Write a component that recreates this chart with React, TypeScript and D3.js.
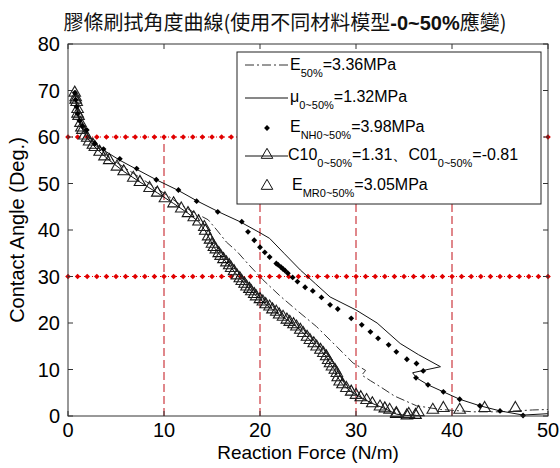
import * as d3 from "d3";

type Pt = [number, number];

const xTicks = [0, 10, 20, 30, 40, 50];
const yTicks = [0, 10, 20, 30, 40, 50, 60, 70, 80];
const refAngles = [60, 30];
const refForces = [10, 20, 30, 40];
const refDotForces = d3.range(0, 51);

// E50% (dash-dot)
const e50Pts: Pt[] = [
  [0.7, 69.5], [0.9, 66], [1.2, 63.5], [1.8, 60.5], [2.6, 58.6], [3.6, 56.8], [5, 54.6],
  [6.8, 52.2], [8.6, 49.8], [10.3, 47.5], [11.8, 45.3], [13.4, 43.5], [14.6, 42.2], [15.5, 40],
  [16.5, 37.4], [17.6, 35.4], [18.8, 32.6], [20.3, 29.3], [22.1, 25.8], [23.8, 22.8], [25.9, 19.2],
  [28, 14.9], [29.7, 11.4], [31, 9.8], [30.6, 8.8], [31.5, 7.6], [32.6, 6.2], [34, 4.3],
  [36.3, 2.2], [38.8, 1.4], [42.2, 0.9], [45, 0.9], [48.4, 1.3], [50, 1.4],
];

// mu 0~50% (solid)
const muPts: Pt[] = [
  [0.7, 70], [0.8, 68.5], [1, 66], [1.3, 63.2], [1.7, 61.3], [2.2, 60], [3, 58.3], [4, 56.8],
  [5.4, 55], [7.2, 53], [9.2, 50.8], [11.5, 48.5], [13.4, 46.3], [15.8, 43.8], [17.9, 41.8],
  [20, 39.4], [21, 38.2], [22.5, 35], [24.2, 31.4], [25.8, 28.4], [27.3, 25.6], [30, 22.8],
  [32.2, 20], [34.6, 15.6], [36.5, 13.2], [38.8, 10.6], [35.9, 9.3], [36.3, 8.2], [37.5, 6.7],
  [39.1, 5.2], [40.8, 3.6], [42.9, 2.2], [45, 1.1], [47.4, 0.2], [50, 0.5],
];

// E NH 0~50% (diamonds)
const nhPts: Pt[] = [
  [0.7, 69.5], [0.8, 68], [0.9, 66.5], [1, 65], [1.2, 63.5], [1.5, 62.3], [1.95, 61.5],
  [2.8, 58.6], [3.7, 57.4], [5.4, 55.3], [7.15, 53.2], [9.2, 50.8], [11.5, 48.6], [13.4, 46.2],
  [15.6, 43.9], [18.1, 41.8], [18.75, 39.6], [19.4, 37.8], [20, 36.3], [20.5, 35.2], [21, 34.2],
  [21.7, 32.8], [21.9, 32.5], [22.2, 32], [22.4, 31.6], [22.6, 31.3], [22.9, 30.7], [23.4, 29.8],
  [23.9, 28.9], [24.7, 27.7], [25.5, 26.9], [26.4, 25.5], [27.3, 23.9], [28.1, 23], [29.5, 21],
  [30.6, 19.6], [31.5, 18.1], [32.3, 16.7], [33.4, 15.3], [34.2, 13.8], [35.3, 12.2], [36.3, 11.3],
  [37, 9.7], [36.25, 8.2], [37.5, 6.7], [39.1, 5.2], [40.8, 3.6], [42.9, 2.2], [45, 1.1], [47.4, 0.1],
];

// C10 / C01 0~50% (line + triangles)
const mrLinePts: Pt[] = [
  [0.8, 68], [1, 65], [1.4, 62], [2, 59.8], [2.6, 58.3], [3.3, 56.8], [4.3, 55], [5.8, 52.6],
  [7.5, 50.3], [9.3, 48], [11, 45.7], [12.5, 43.6], [13.6, 41.8], [14.3, 39.8], [14.8, 37.9],
  [15.2, 36.3], [15.7, 35], [16.2, 33.7], [16.8, 32.4], [17.3, 31.1], [17.9, 29.6], [18.4, 28.4],
  [18.9, 27.3], [19.4, 26.2], [20, 25.1], [20.6, 24], [21.3, 22.9], [22, 21.8], [22.8, 20.7],
  [23.5, 19.7], [24.2, 18.5], [24.9, 17], [25.6, 15.6], [26.3, 14.2], [26.9, 12.8], [27.3, 11.3],
  [27.8, 9.9], [28.1, 8.3], [28.6, 6.8], [29.5, 5.2], [30.5, 4], [31.7, 2.7], [33, 1.6],
  [34.2, 0.4], [35.3, 0.1], [36.2, 0.2],
];

// E MR 0~50% (triangles)
const mrPts: Pt[] = [
  [0.7, 69.5], [0.8, 68.5], [0.9, 67.5], [1, 66], [1.1, 64.5], [1.3, 63], [1.5, 61.5], [1.7, 60.3],
  [2.2, 59], [2.8, 57.8], [3.8, 55.8], [5.1, 53.6], [6.8, 51.2], [8.5, 49], [10.1, 46.8],
  [11.8, 44.6], [13.1, 42.7], [14.2, 40.6], [14.6, 38.6], [15, 37], [15.4, 35.8], [15.9, 34.4],
  [16.5, 33], [17, 31.8], [17.6, 30.2], [18.1, 29], [18.6, 27.8], [19.1, 26.8], [19.6, 25.7],
  [20.3, 24.6], [21, 23.5], [21.7, 22.4], [22.4, 21.3], [23.1, 20.2], [23.8, 19.2], [24.5, 17.8],
  [25.2, 16.3], [25.9, 14.9], [26.6, 13.5], [27.1, 12], [27.5, 10.6], [28, 9.2], [28.3, 7.4],
  [29, 6], [30, 4.5], [31.1, 3.4], [32.5, 2], [33.5, 1.3], [34.2, 0.6], [35.5, 0.4], [36.5, 0.8],
  [38, 1.3], [39.1, 1.7], [40.8, 1.3], [43.4, 1.7], [46.6, 1.7],
];

const W = 560;
const H = 468;
const L = 68, R = 548, T = 44, B = 416;
const FONT = "'Liberation Sans', Arial, sans-serif";

export default function App() {
  const x = d3.scaleLinear().domain([0, 50]).range([L, R]);
  const y = d3.scaleLinear().domain([0, 80]).range([B, T]);
  const line = d3.line<Pt>().x((d) => x(d[0])).y((d) => y(d[1]));
  const tri = d3.symbol(d3.symbolTriangle, 58)()!;
  const dia = d3.symbol(d3.symbolDiamond2, 22)()!;
  const redDia = d3.symbol(d3.symbolDiamond2, 20)()!;

  const legendX = 237, legendY = 52, legendW = 304, legendH = 152;
  const sx0 = 245, sx1 = 288, sxm = 267;

  return (
    <div style={{ position: "fixed", left: 0, top: 0 }}>
      <svg width={W} height={H} style={{ display: "block", background: "#fff" }} fontFamily={FONT}>
        <text x={285} y={30} textAnchor="middle" fontSize={20} fill="#111" fontFamily="'Noto Sans CJK TC', sans-serif">
          膠條刷拭角度曲線(使用不同材料模型
          <tspan fontFamily={FONT} fontWeight="bold">-0~50%</tspan>應變)
        </text>

        {/* reference lines */}
        {refForces.map((f) => (
          <line key={"v" + f} x1={x(f)} x2={x(f)} y1={y(0)} y2={y(60)}
            stroke="#d0484e" strokeWidth={1.3} strokeDasharray="8,4" />
        ))}
        {refAngles.map((a) => (
          <g key={"h" + a}>
            <line x1={x(0)} x2={x(50)} y1={y(a)} y2={y(a)} stroke="#e00" strokeWidth={1} strokeDasharray="1,3" />
            {refDotForces.map((f) => (
              <path key={f} d={redDia} transform={`translate(${x(f)},${y(a)})`} fill="#e00000" />
            ))}
          </g>
        ))}

        {/* series */}
        <path d={line(e50Pts)!} fill="none" stroke="#333" strokeWidth={1} strokeDasharray="9,3,2,3" />
        <path d={line(muPts)!} fill="none" stroke="#111" strokeWidth={1} />
        <path d={line(mrLinePts)!} fill="none" stroke="#111" strokeWidth={1} />
        {mrLinePts.map((d, i) => (
          <path key={"ml" + i} d={tri} transform={`translate(${x(d[0])},${y(d[1])})`} fill="none" stroke="#111" strokeWidth={1.1} />
        ))}
        {mrPts.map((d, i) => (
          <path key={"m" + i} d={tri} transform={`translate(${x(d[0])},${y(d[1])})`} fill="none" stroke="#222" strokeWidth={1.1} />
        ))}
        {nhPts.map((d, i) => (
          <path key={"n" + i} d={dia} transform={`translate(${x(d[0])},${y(d[1])})`} fill="#000" />
        ))}

        {/* axes box and ticks */}
        <rect x={L} y={T} width={R - L} height={B - T} fill="none" stroke="#333" strokeWidth={1} />
        {xTicks.map((t) => (
          <g key={"xt" + t}>
            <line x1={x(t)} x2={x(t)} y1={B} y2={B - 5} stroke="#333" />
            <line x1={x(t)} x2={x(t)} y1={T} y2={T + 5} stroke="#333" />
            <text x={x(t)} y={437} textAnchor="middle" fontSize={20} fill="#000">{t}</text>
          </g>
        ))}
        {yTicks.map((t) => (
          <g key={"yt" + t}>
            <line x1={L} x2={L + 5} y1={y(t)} y2={y(t)} stroke="#333" />
            <line x1={R} x2={R - 5} y1={y(t)} y2={y(t)} stroke="#333" />
            <text x={60} y={y(t) + 7} textAnchor="end" fontSize={20} fill="#000">{t}</text>
          </g>
        ))}
        <text x={(L + R) / 2} y={459} textAnchor="middle" fontSize={19} fill="#000">Reaction Force (N/m)</text>
        <text transform={`translate(24,${(T + B) / 2}) rotate(-90)`} textAnchor="middle" fontSize={20} fill="#000">
          Contact Angle (Deg.)
        </text>

        {/* legend */}
        <rect x={legendX} y={legendY} width={legendW} height={legendH} fill="#fff" stroke="#222" strokeWidth={1} />
        <g fontSize={16} fill="#000">
          <line x1={sx0} x2={sx1} y1={65} y2={65} stroke="#333" strokeDasharray="9,3,2,3" />
          <text x={290} y={70}>E<tspan fontSize={11} dy={7}>50%</tspan><tspan dy={-7}>=3.36MPa</tspan></text>

          <line x1={sx0} x2={sx1} y1={98} y2={98} stroke="#111" />
          <text x={290} y={102}>μ<tspan fontSize={11} dy={7}>0~50%</tspan><tspan dy={-7}>=1.32MPa</tspan></text>

          <path d={dia} transform={`translate(${sxm},128)`} fill="#000" />
          <text x={290} y={132}>E<tspan fontSize={11} dy={7}>NH0~50%</tspan><tspan dy={-7}>=3.98MPa</tspan></text>

          <line x1={sx0} x2={sx1} y1={156} y2={156} stroke="#111" />
          <path d={tri} transform={`translate(${sxm},155)`} fill="none" stroke="#111" />
          <text x={288} y={160}>C10<tspan fontSize={11} dy={7}>0~50%</tspan><tspan dy={-7}>=1.31、C01</tspan><tspan fontSize={11} dy={7}>0~50%</tspan><tspan dy={-7}>=-0.81</tspan></text>

          <path d={tri} transform={`translate(${sxm},186)`} fill="none" stroke="#111" />
          <text x={292} y={190}>E<tspan fontSize={11} dy={7}>MR0~50%</tspan><tspan dy={-7}>=3.05MPa</tspan></text>
        </g>
      </svg>
    </div>
  );
}
